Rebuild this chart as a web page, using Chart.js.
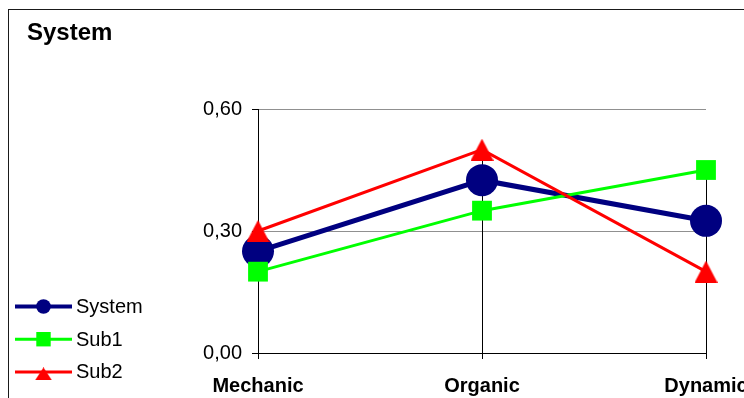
<!DOCTYPE html>
<html>
<head>
<meta charset="utf-8">
<script src="https://cdn.jsdelivr.net/npm/chart.js@4/dist/chart.umd.min.js"></script>
<style>
  html, body { margin: 0; padding: 0; background: #fff; overflow: hidden; width: 744px; height: 398px; }
  #wrap { position: relative; width: 800px; height: 430px; }
  #chart { position: absolute; left: 0; top: 0; }
  #title { position: absolute; left: 27px; top: 20px; font: bold 24px "Liberation Sans", Arial, sans-serif; line-height: 24px; color: #000; }
</style>
</head>
<body>
<div id="wrap">
  <canvas id="chart" width="800" height="430"></canvas>
  <div id="title">System</div>
</div>
<script>
// Categories and series
const categories = ['Mechanic', 'Organic', 'Dynamic'];
const systemValues = [0.25, 0.425, 0.325];
const sub1Values = [0.20, 0.35, 0.45];
const sub2Values = [0.30, 0.50, 0.20];
const yTickLabels = ['0,00', '0,30', '0,60'];

const FONT = '"Liberation Sans", Arial, sans-serif';

// Triangle marker whose bounding box is centred on the data point
function triangleMarker(w, h, color) {
  const c = document.createElement('canvas');
  c.width = w; c.height = h;
  const g = c.getContext('2d');
  g.fillStyle = color;
  g.beginPath();
  g.moveTo(w / 2, 0);
  g.lineTo(w, h);
  g.lineTo(0, h);
  g.closePath();
  g.fill();
  return c;
}
const redTriangle = triangleMarker(23, 22, '#ff0000');
const redTriangleSmall = triangleMarker(17, 13, '#ff0000');

// Chart frame around the whole figure
const framePlugin = {
  id: 'frame',
  beforeDraw(chart) {
    const ctx = chart.ctx;
    ctx.save();
    ctx.strokeStyle = '#1a1a1a';
    ctx.lineWidth = 1;
    ctx.strokeRect(8.5, 9.5, 1000, 1000);
    ctx.restore();
  }
};

// Vertical drop lines from the highest point of each category to the axis
const dropLinesPlugin = {
  id: 'dropLines',
  beforeDatasetsDraw(chart) {
    const ctx = chart.ctx;
    const x = chart.scales.x, y = chart.scales.y;
    ctx.save();
    ctx.strokeStyle = '#000';
    ctx.lineWidth = 1;
    categories.forEach((c, i) => {
      const top = Math.max(...chart.data.datasets.map(d => d.data[i]));
      const px = Math.round(x.getPixelForValue(i)) + 0.5;
      ctx.beginPath();
      ctx.moveTo(px, y.getPixelForValue(top));
      ctx.lineTo(px, chart.chartArea.bottom);
      ctx.stroke();
    });
    ctx.restore();
  }
};

// Legend: line with marker, followed by the series name
const lineLegendPlugin = {
  id: 'lineLegend',
  afterDraw(chart) {
    const ctx = chart.ctx;
    const opts = chart.options.plugins.lineLegend;
    ctx.save();
    chart.data.datasets.forEach((ds, i) => {
      const cy = opts.top + i * opts.spacing;
      ctx.strokeStyle = ds.borderColor;
      ctx.lineWidth = ds.legendLineWidth;
      ctx.beginPath();
      ctx.moveTo(opts.left, cy);
      ctx.lineTo(opts.left + opts.lineLength, cy);
      ctx.stroke();
      ctx.fillStyle = ds.pointBackgroundColor;
      ctx.strokeStyle = ds.pointBorderColor;
      Chart.helpers.drawPoint(ctx, {
        pointStyle: ds.legendPointStyle,
        radius: ds.legendPointRadius,
        rotation: 0,
        borderWidth: 0
      }, opts.left + opts.lineLength / 2, cy + ds.legendPointShift);
      ctx.fillStyle = '#000';
      ctx.font = '20px ' + FONT;
      ctx.textBaseline = 'middle';
      ctx.textAlign = 'left';
      ctx.fillText(ds.label, opts.left + opts.lineLength + 4, cy + 1);
    });
    ctx.restore();
  }
};

new Chart(document.getElementById('chart'), {
  type: 'line',
  data: {
    labels: categories,
    datasets: [
      {
        label: 'System', data: systemValues, order: 3,
        borderColor: '#000080', borderWidth: 5,
        pointStyle: 'circle', pointRadius: 16, pointHoverRadius: 16,
        pointBackgroundColor: '#000080', pointBorderColor: '#000080', pointBorderWidth: 0,
        legendPointStyle: 'circle', legendLineWidth: 4, legendPointRadius: 7.3, legendPointShift: 0
      },
      {
        label: 'Sub1', data: sub1Values, order: 2,
        borderColor: '#00ff00', borderWidth: 3,
        pointStyle: 'rect', pointRadius: 14, pointHoverRadius: 14,
        pointBackgroundColor: '#00ff00', pointBorderColor: '#00ff00', pointBorderWidth: 0,
        legendPointStyle: 'rect', legendLineWidth: 3, legendPointRadius: 10.2, legendPointShift: 0
      },
      {
        label: 'Sub2', data: sub2Values, order: 1,
        borderColor: '#ff0000', borderWidth: 3,
        pointStyle: redTriangle, pointRadius: 13, pointHoverRadius: 13,
        pointBackgroundColor: '#ff0000', pointBorderColor: '#ff0000', pointBorderWidth: 0,
        legendPointStyle: redTriangleSmall, legendLineWidth: 3, legendPointRadius: 9, legendPointShift: 2
      }
    ]
  },
  options: {
    responsive: false,
    animation: false,
    events: [],
    layout: { padding: { left: 0, top: 109, right: 94, bottom: 32 } },
    elements: { line: { tension: 0 } },
    scales: {
      x: {
        offset: false,
        grid: { display: true, drawOnChartArea: false, tickLength: 6, tickColor: '#000', color: '#000' },
        border: { display: true, color: '#000', width: 1 },
        ticks: { color: '#000', font: { family: FONT, size: 20, weight: 'bold' }, padding: 15, maxRotation: 0, autoSkip: false },
        afterFit(scale) { scale.height = 45; }
      },
      y: {
        min: 0, max: 0.6,
        grid: { color: '#909090', tickColor: '#000', tickLength: 6, lineWidth: 1 },
        border: { display: true, color: '#000', width: 1 },
        ticks: {
          stepSize: 0.3, color: '#000', padding: 10,
          font: { family: FONT, size: 20 },
          callback: (v, i) => yTickLabels[i]
        },
        afterFit(scale) { scale.width = 258; }
      }
    },
    plugins: {
      legend: { display: false },
      title: { display: false },
      tooltip: { enabled: false },
      lineLegend: { left: 15, top: 306.5, spacing: 32.7, lineLength: 57 }
    }
  },
  plugins: [framePlugin, dropLinesPlugin, lineLegendPlugin]
});
</script>
</body>
</html>
